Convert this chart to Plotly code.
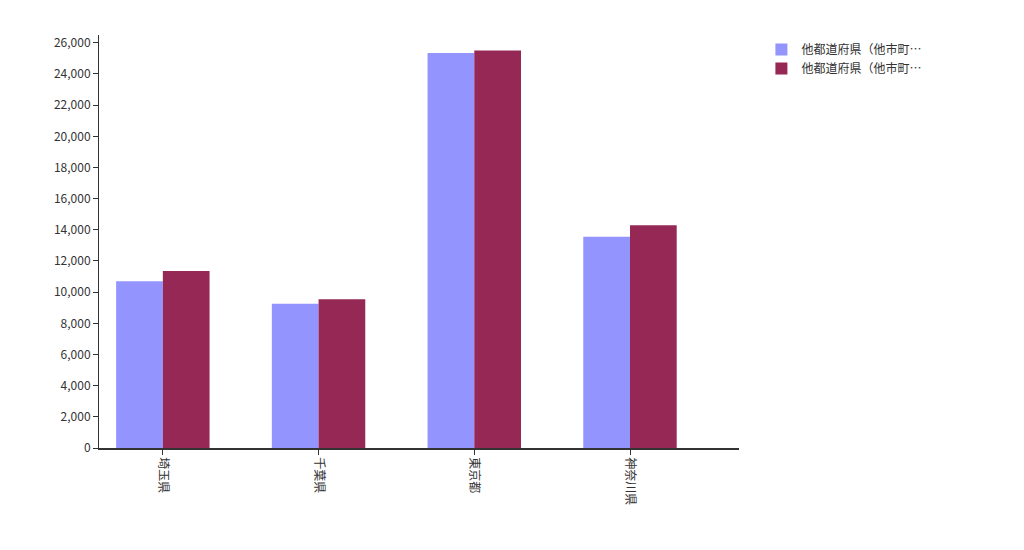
import plotly.graph_objects as go

categories = ["埼玉県", "千葉県", "東京都", "神奈川県"]
series_names = ["他都道府県（他市町…", "他都道府県（他市町…"]
series1 = [10700, 9250, 25350, 13550]
series2 = [11350, 9550, 25500, 14300]
colors = ["#9494ff", "#962856"]

fig = go.Figure()
for name, vals, c in zip(series_names, [series1, series2], colors):
    fig.add_bar(x=categories, y=vals, name=name, marker_color=c, marker_line_width=0)

font = "Noto Sans CJK JP"
fig.update_layout(
    width=1024, height=550, plot_bgcolor="white", paper_bgcolor="white",
    margin=dict(l=91, r=293, t=27, b=110, autoexpand=False),
    barmode="group", bargap=0.4, bargroupgap=0,
    font=dict(family=font, size=12, color="#333"),
    legend=dict(x=1.035, y=1.0, xanchor="left", yanchor="top", font=dict(size=12),
                itemwidth=30, tracegroupgap=0, itemsizing="constant"),
    xaxis=dict(tickangle=90, showline=True, linecolor="#333", linewidth=1.5,
               range=[-0.41, 3.70], automargin=False,
               ticks="outside", ticklen=5, tickcolor="#333"),
    yaxis=dict(range=[0, 26500], dtick=2000, tickformat=",", showline=True,
               automargin=False,
               linecolor="#333", ticks="outside", ticklen=5, tickcolor="#333",
               showgrid=False, zeroline=False),
)
fig.write_html("out.html")
